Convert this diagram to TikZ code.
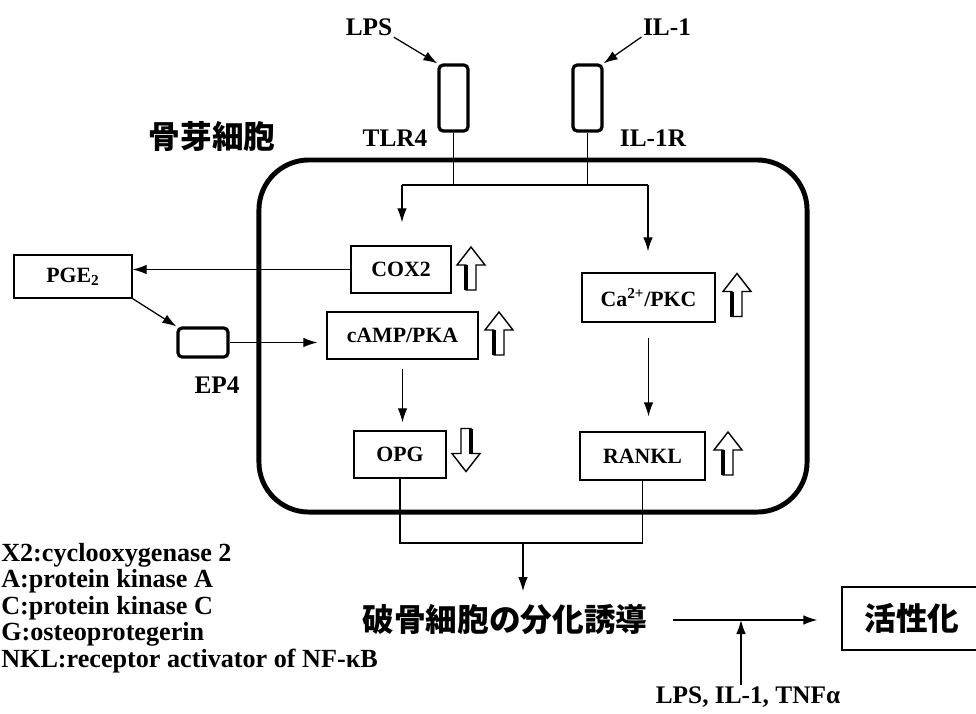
\documentclass[tikz,border=0pt]{standalone}
\usepackage{fontspec}
\setmainfont{Liberation Serif}
\newfontfamily\cjk{Noto Sans CJK JP}
\usetikzlibrary{arrows.meta,positioning,calc}

\begin{document}
\begin{tikzpicture}[
  x=0.025cm, y=-0.025cm,
  box/.style={draw, line width=0.9pt, minimum width=#1, minimum height=1.175cm, inner sep=0pt, font=\fontsize{15.5}{18}\selectfont\bfseries},
  receptor/.style={draw, line width=2.3pt, rounded corners=3pt, fill=white},
  label/.style={font=\fontsize{18}{20}\selectfont\bfseries, inner sep=1pt},
  jp/.style={font=\fontsize{22.5}{24}\selectfont\cjk\bfseries, inner sep=1pt},
  arrow/.style={-{Latex[length=3.5mm,width=2.4mm]}, line width=0.9pt},
  line/.style={line width=0.9pt},
  hollow/.pic={
    \draw[line width=1pt, fill=white, line join=miter] (-5,21.5) -- (-5,-3.5) -- (-14,-3.5) -- (0,-21.5) -- (14,-3.5) -- (5,-3.5) -- (5,21.5) -- cycle;
    \draw[line width=2.2pt] (-5,21.5) -- (-5,-3.5);
  }
]
  \useasboundingbox (0,0) rectangle (976,713);

  \node[draw, line width=3.5pt, rounded corners=1.25cm, minimum width=13.7cm, minimum height=8.8cm] (cell) at (533,336) {};

  \node[label] (lps) at (369,27) {LPS};
  \node[label] (il1) at (667,27) {IL-1};
  \node[receptor, minimum width=0.725cm, minimum height=1.65cm] (tlr4) at (453.5,98) {};
  \node[receptor, minimum width=0.725cm, minimum height=1.65cm] (il1r) at (587.5,98) {};
  \node[label] (tlr4lab) at (395,138) {TLR4};
  \node[label] (il1rlab) at (653,138) {IL-1R};
  \node[jp] (osteoblast) at (212,137) {骨芽細胞};

  \node[box={2.5cm}] (cox2) at (401,269.5) {COX2};
  \node[box={2.95cm}, minimum height=1.075cm] (pge2) at (73,276.5) {PGE\textsubscript{2}};
  \node[receptor, minimum width=1.25cm, minimum height=0.725cm] (ep4) at (203,342.5) {};
  \node[label] (ep4lab) at (217,385) {EP4};
  \node[box={3.775cm}] (camp) at (402.5,335.5) {cAMP/PKA};
  \node[box={2.3cm}] (opg) at (400,454.5) {OPG};
  \node[box={3.325cm}, minimum height=1.225cm] (capkc) at (648.5,297.5) {Ca\textsuperscript{2+}/PKC};
  \node[box={3.125cm}, minimum height=1.2cm] (rankl) at (642.5,456) {RANKL};

  \pic at (471,268.5) {hollow};
  \pic at (499,333.5) {hollow};
  \pic[rotate=180] at (466,450) {hollow};
  \pic at (737,295) {hollow};
  \pic at (728,453.5) {hollow};

  \node[jp] (diff) at (505,620) {破骨細胞の分化誘導};
  \node[jp, draw, line width=0.9pt, minimum width=3.5cm, minimum height=1.575cm] (act) at (912,618.5) {活性化};
  \node[label] (stim) at (748,697) {LPS, IL-1, TNFα};

  \node[anchor=north west, align=left, inner sep=0pt, font=\fontsize{18.6}{18.85}\selectfont\bfseries] (legend) at (1,543)
    {X2:cyclooxygenase 2\\A:protein kinase A\\C:protein kinase C\\G:osteoprotegerin\\NKL:receptor activator of NF-κB};

  \coordinate (bl) at (402,185);
  \coordinate (br) at (648,185);
  \coordinate (join) at (523,543);
  \coordinate (hit) at (741,620);

  \draw[arrow] (lps.south east) -- (tlr4.north west);
  \draw[arrow] (il1.south west) -- (il1r.north east);
  \draw[line] (tlr4.south) -- (tlr4.south |- bl);
  \draw[line] (il1r.south) -- (il1r.south |- br);
  \draw[line] (bl) -- (br);
  \draw[arrow, shorten >=0.575cm] (bl) -- (bl |- cox2.north);
  \draw[arrow, shorten >=0.525cm] (br) -- (br |- capkc.north);
  \draw[arrow] (cox2.west) -- (cox2.west -| pge2.east);
  \draw[arrow] (pge2.south east) -- (ep4.north west);
  \draw[arrow, shorten >=0.225cm] (ep4.east) -- (ep4.east -| camp.west);
  \draw[arrow, shorten <=0.225cm, shorten >=0.2cm] (camp.south) -- (camp.south |- opg.north);
  \draw[arrow, shorten <=0.375cm, shorten >=0.375cm] (capkc.south) -- (capkc.south |- rankl.north);
  \draw[line] (opg.south) |- (join) -| (rankl.south);
  \draw[arrow, shorten >=0.3cm] (join) -- (join |- diff.north);
  \draw[arrow, shorten <=0.6cm, shorten >=0.6cm] (diff.east) -- (diff.east -| act.west);
  \draw[arrow] (hit |- stim.north) -- (hit);
\end{tikzpicture}
\end{document}
